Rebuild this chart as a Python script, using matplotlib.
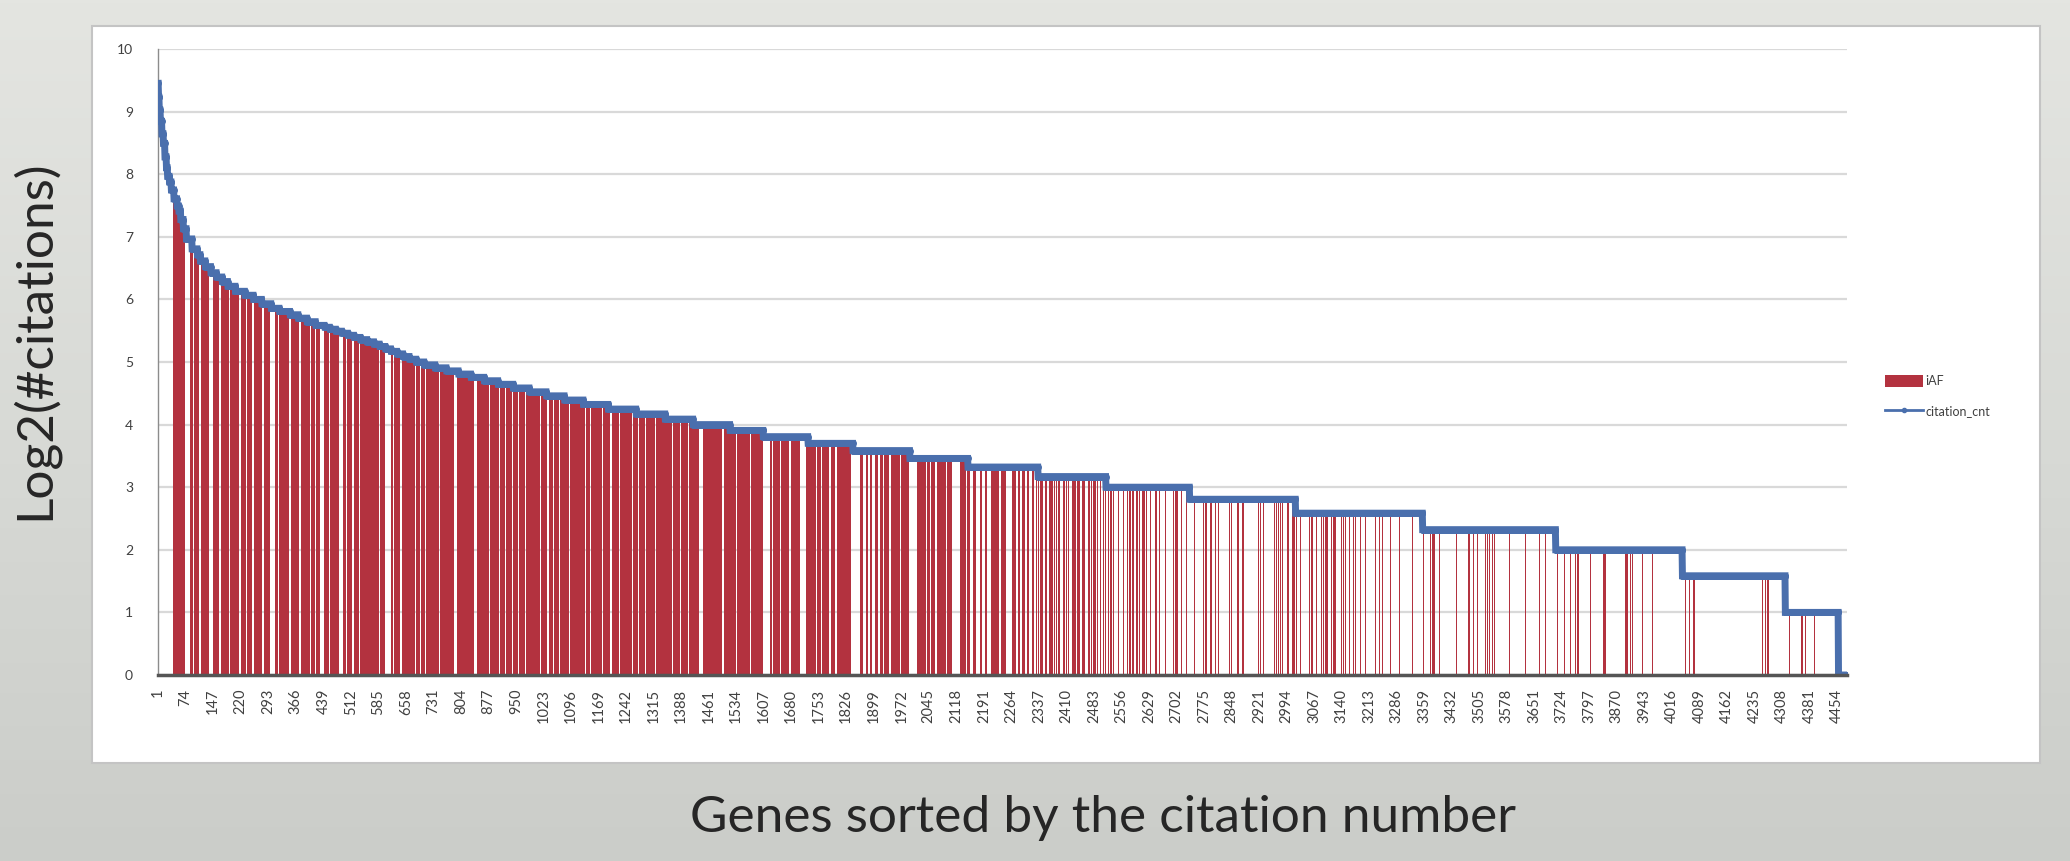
import numpy as np
import matplotlib
matplotlib.use('Agg')
import matplotlib.pyplot as plt
from matplotlib.patches import Rectangle, Patch
from matplotlib.lines import Line2D

plt.rcParams['font.family'] = ['Lato', 'DejaVu Sans']

# ---- data ----
# citation count per level and the last gene rank holding that level
cit_levels = [700, 600, 520, 460, 400, 360, 310, 275, 250, 235,
              215, 195, 180, 170, 155, 140, 125, 112, 105, 98,
              92, 86, 82, 78, 74, 70, 67, 64, 61, 58,
              56, 54, 52, 50, 48, 47, 46, 45, 44, 43,
              42, 41, 40, 39, 38, 37, 36, 35, 34, 33,
              32, 31, 30, 29, 28, 27, 26, 25, 24, 23,
              22, 21, 20, 19, 18, 17, 16, 15, 14, 13,
              12, 11, 10, 9, 8, 7, 6, 5, 4, 3,
              2, 1]
level_last_rank = [1, 3, 6, 10, 14, 18, 22, 25, 30, 35,
                   42, 50, 55, 60, 67, 75, 90, 104, 112, 125,
                   140, 155, 170, 185, 205, 230, 253, 275, 300, 322,
                   350, 372, 395, 418, 442, 456, 472, 488, 504, 520,
                   537, 555, 573, 588, 603, 618, 634, 650, 667, 685,
                   706, 735, 765, 797, 830, 865, 902, 942, 985, 1030,
                   1078, 1128, 1194, 1268, 1345, 1419, 1517, 1605, 1724, 1843,
                   1994, 2148, 2334, 2514, 2736, 3017, 3354, 3707, 4043, 4316,
                   4457, 4480]

# iAF genes: nearly all ranks in this span, minus the gaps
dense_first, dense_last = 41, 2269
gap_start = [73, 110, 136, 163, 216, 251, 277, 298, 349, 375,
             404, 431, 481, 516, 587, 603, 643, 683, 709, 746,
             786, 839, 905, 940, 974, 1014, 1033, 1065, 1091, 1133,
             1147, 1200, 1224, 1258, 1292, 1318, 1385, 1406, 1437, 1498,
             1533, 1570, 1605, 1650, 1676, 1703, 1745, 1782, 1798, 1838,
             1872, 1884, 1896, 1910, 1941, 1968, 1994, 2037, 2063, 2108,
             2155, 2170, 2186, 2200, 2233, 2249]
gap_len = [12, 6, 12, 6, 4, 4, 4, 14, 4, 4,
           4, 10, 12, 4, 4, 16, 6, 3, 3, 4,
           8, 8, 3, 3, 3, 4, 4, 3, 3, 4,
           3, 6, 3, 3, 4, 3, 3, 3, 9, 3,
           3, 4, 18, 3, 3, 16, 3, 3, 3, 24,
           6, 6, 8, 6, 4, 4, 21, 4, 4, 19,
           8, 10, 8, 10, 4, 18]
# single-gene gaps inside the dense span
thin_gaps = [95, 125, 190, 235, 265, 320, 362, 390, 418, 455,
             468, 500, 535, 555, 570, 625, 663, 697, 725, 765,
             810, 822, 860, 880, 922, 957, 993, 1050, 1080, 1110,
             1120, 1165, 1180, 1213, 1240, 1275, 1305, 1335, 1350, 1365,
             1420, 1460, 1475, 1515, 1550, 1590, 1630, 1663, 1690, 1725,
             1760, 1815, 1825, 1866, 1925, 1955, 1982, 2022, 2050, 2078,
             2092, 2130, 2145, 2220]

# iAF genes further down the ranking (sparse part)
sparse_start = [2270, 2283, 2292, 2306, 2318, 2330, 2340, 2355, 2365, 2378,
                2388, 2402, 2414, 2426, 2438, 2453, 2468, 2482, 2508, 2520,
                2533, 2548, 2560, 2570, 2580, 2588, 2596, 2610, 2622, 2632,
                2642, 2655, 2671, 2684, 2694, 2704, 2714, 2724, 2732, 2750,
                2762, 2779, 2792, 2805, 2820, 2830, 2842, 2852, 2862, 2876,
                2886, 2905, 2925, 2955, 2962, 2972, 2983, 2995, 3010, 3030,
                3040, 3050, 3060, 3072, 3082, 3092, 3102, 3112, 3121, 3140,
                3160, 3176, 3190, 3203, 3248, 3293, 3328, 3356, 3366, 3376,
                3386, 3420, 3445, 3476, 3512, 3522, 3532, 3545, 3570, 3584,
                3600, 3626, 3663, 3680, 3712, 3730, 3745, 3765, 3835, 3893,
                3905, 3918, 3936, 3963, 4052, 4062, 4072, 4256, 4270, 4327,
                4360, 4393]
sparse_len = [6, 4, 8, 5, 6, 3, 8, 4, 6, 3,
              6, 5, 4, 6, 8, 8, 6, 8, 3, 3,
              4, 3, 3, 5, 2, 2, 5, 5, 2, 2,
              2, 4, 4, 2, 2, 2, 2, 2, 2, 1,
              1, 3, 1, 3, 1, 1, 3, 1, 5, 2,
              2, 1, 1, 2, 3, 2, 3, 2, 3, 2,
              2, 2, 5, 2, 2, 2, 2, 2, 4, 1,
              3, 3, 1, 3, 2, 2, 2, 2, 2, 2,
              2, 1, 1, 5, 2, 2, 2, 3, 1, 2,
              1, 3, 3, 3, 2, 2, 4, 5, 3, 6,
              4, 2, 3, 3, 3, 2, 3, 3, 4, 2,
              3, 2]
# single iAF genes scattered in the sparse part (faint pink lines)
thin_bars = [2276, 2289, 2301, 2314, 2326, 2336, 2350, 2361, 2373, 2384,
             2396, 2410, 2422, 2434, 2448, 2462, 2477, 2492, 2500, 2514,
             2527, 2541, 2554, 2566, 2577, 2604, 2617, 2627, 2637, 2649,
             2663, 2679, 2690, 2699, 2709, 2719, 2729, 2740, 2756, 2769,
             2786, 2799, 2813, 2836, 2848, 2870, 2894, 2915, 2940, 2948,
             2967, 2978, 2990, 3003, 3020, 3035, 3045, 3055, 3067, 3077,
             3087, 3097, 3107, 3130, 3150, 3168, 3184, 3197, 3215, 3230,
             3270, 3310, 3361, 3371, 3381, 3400, 3460, 3500, 3517, 3527,
             3540, 3555, 3640, 3700, 3720, 3740, 3757, 3780, 3800, 3870,
             3950, 4000, 4058, 4067, 4264, 4340, 4370,
             2457, 2473, 2488, 2504, 2517, 2530, 2545, 2557, 2585, 2600,
             2614, 2646, 2659, 2667, 2675, 2687, 2702, 2712, 2736, 2745,
             2774, 2782, 2795, 2809, 2825, 2833, 2857, 2880, 2900, 2920,
             2933, 2958, 2976, 2987, 2999, 3015, 3025, 3062, 3069, 3080,
             3090, 3100, 3110, 3118, 3145, 3155, 3172, 3180, 3208, 3240,
             3260, 3300, 3340, 3364, 3374, 3384, 3391, 3430, 3490, 3509,
             3536, 3550, 3610, 3690, 3735, 3760, 3775, 3840, 3900, 3912,
             4056, 4076, 4260, 4364]

assert len(cit_levels) == len(level_last_rank)
assert len(gap_start) == len(gap_len)
assert len(sparse_start) == len(sparse_len)

tick_step = 73

# ---- build series ----
n_genes = level_last_rank[-1]
ranks = np.arange(1, n_genes + 1)
counts = np.diff([0] + level_last_rank)
cit = np.repeat(cit_levels, counts)
log_cit = np.log2(cit)

in_iaf = np.zeros(n_genes, dtype=bool)
in_iaf[dense_first - 1:dense_last] = True
for s, l in zip(gap_start, gap_len):
    in_iaf[s - 1:s - 1 + l] = False
for s in thin_gaps:
    in_iaf[s - 1] = False
for s, l in zip(sparse_start, sparse_len):
    in_iaf[s - 1:s - 1 + l] = True
for s in thin_bars:
    in_iaf[s - 1] = True
iaf = np.where(in_iaf, log_cit, 0.0)

# ---- figure ----
W, H = 2070, 861
fig = plt.figure(figsize=(W / 100, H / 100), dpi=100, facecolor='#d7d9d5')

# slide background gradient
bg = fig.add_axes([0, 0, 1, 1], zorder=-10)
grad = np.linspace(0, 1, 256).reshape(-1, 1)
bg.imshow(grad, aspect='auto', cmap=matplotlib.colors.LinearSegmentedColormap.from_list(
    'slide', ['#e4e5e1', '#d8dad6', '#cbcdc9']), extent=[0, 1, 0, 1], origin='upper')
bg.set_axis_off()

# white chart box
fig.patches.append(Rectangle((92 / W, 1 - 763 / H), (2040 - 92) / W, (763 - 26) / H,
                             transform=fig.transFigure, facecolor='white',
                             edgecolor='#c4c4c4', linewidth=1.5, zorder=-5))

ax = fig.add_axes([158 / W, 1 - 675 / H, (1847 - 158) / W, (675 - 49) / H])
ax.set_facecolor('none')

edges = np.flatnonzero(np.diff(np.r_[0, in_iaf.astype(int), 0]))
bar_color = '#b3323f'
for a, b in zip(edges[::2], edges[1::2]):
    xs = np.r_[ranks[a:b] - 0.5, ranks[b - 1] + 0.5]
    ys = np.r_[iaf[a:b], iaf[b - 1]]
    ax.fill_between(xs, 0, ys, step='post', color=bar_color, linewidth=0, zorder=2)

ax.plot(ranks, log_cit, color='#4a6fad', lw=5, marker='o', ms=4,
        solid_joinstyle='miter', zorder=3)

ax.set_xlim(0.5, n_genes + 0.5)
ax.set_ylim(0, 10)
ax.set_yticks(range(0, 11))
ax.grid(axis='y', color='#d9d9d9', lw=1.6, zorder=0)
ax.set_axisbelow(True)

xt = np.arange(1, n_genes + 1, tick_step)
ax.set_xticks(xt)
ax.set_xticklabels([str(v) for v in xt], rotation=90, fontsize=10.5, color='#404040')
ax.tick_params(axis='x', length=0, pad=10)
ax.tick_params(axis='y', length=0, pad=18, labelsize=10, labelcolor='#404040')

for s in ['top', 'right']:
    ax.spines[s].set_visible(False)
ax.spines['left'].set_color('#8c8c8c')
ax.spines['left'].set_linewidth(1)
ax.spines['bottom'].set_color('#555555')
ax.spines['bottom'].set_linewidth(2.5)
ax.spines['bottom'].set_zorder(4)

handles = [Patch(facecolor=bar_color, edgecolor='none'),
           Line2D([0], [0], color='#4a6fad', lw=2, marker='o', ms=3)]
fig.legend(handles, ['iAF', 'citation_cnt'], loc='center left',
           bbox_to_anchor=(1874 / W, 1 - 396 / H), frameon=False, fontsize=9,
           labelcolor='#404040', handlelength=3.0, handleheight=1.0,
           handletextpad=0.2, labelspacing=1.4)

fig.text(34 / W, 1 - 340 / H, 'Log2(#citations)', rotation=90,
         ha='center', va='center', fontsize=37, color='#262626')
fig.text(1103 / W, 1 - 818 / H, 'Genes sorted by the citation number',
         ha='center', va='center', fontsize=37, color='#262626')

fig.savefig('out.png', dpi=100, facecolor=fig.get_facecolor())
